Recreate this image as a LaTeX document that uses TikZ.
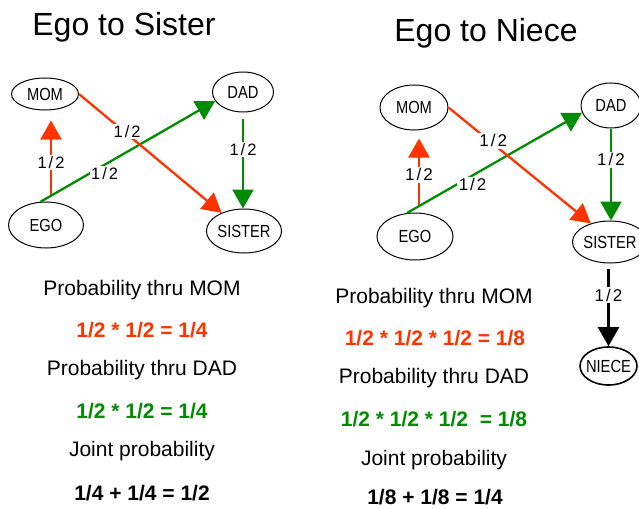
\documentclass[tikz,border=0pt]{standalone}
\usepackage{fontspec}
\setmainfont{Liberation Sans}
\newfontfamily\nodefont[FakeStretch=0.84]{Liberation Sans}
\usetikzlibrary{arrows.meta,shapes.geometric}
\definecolor{myred}{RGB}{255,51,0}
\definecolor{mygreen}{RGB}{0,140,0}
\newcommand\hlf{1\kern2pt/\kern2pt2}
\begin{document}
\begin{tikzpicture}[x=1pt,y=-1pt,
  person/.style={draw=black, line width=1pt, ellipse, inner sep=0pt,
    font=\nodefont\fontsize{17.5}{17.5}\selectfont},
  tip/.style={-{Triangle[width=21pt,length=19pt]}},
  redarr/.style={draw=myred, line width=2.3pt, tip, myred},
  greenarr/.style={draw=mygreen, line width=2.3pt, tip, mygreen},
  blackarr/.style={draw=black, line width=2.3pt, tip},
  lbl/.style={fill=white, inner sep=1.5pt, text=black, font=\fontsize{16.5}{16.5}\selectfont},
  lblr/.style={lbl, font=\fontsize{17}{17}\selectfont},
  title/.style={inner sep=0pt, font=\fontsize{32}{32}\selectfont},
  txt/.style={inner sep=0pt, font=\fontsize{21}{21}\selectfont},
  eq/.style={inner sep=0pt, font=\bfseries\fontsize{21}{21}\selectfont}
]
\useasboundingbox (0,0) rectangle (639,508);
\fill[white] (0,0) rectangle (639,508);

% ---------- left: Ego to Sister ----------
\node[title] (t1) at (124,27) {Ego to Sister};
\node[person, minimum width=67, minimum height=32] (mom1) at (45,94) {MOM};
\node[person, minimum width=61, minimum height=40] (dad1) at (243,92) {DAD};
\node[person, minimum width=75, minimum height=46] (ego1) at (46,225) {EGO};
\node[person, minimum width=75, minimum height=44] (sis1) at (244,231) {SISTER};

\draw[redarr, shorten <=6pt, shorten >=10pt] ([xshift=5pt]ego1.north) -- ([xshift=5pt]ego1.north |- mom1.south)
  node[lbl, pos=.43] {\hlf};
\draw[greenarr] (ego1.103) -- (dad1.198)
  node[lbl, pos=.367, yshift=-9pt] {\hlf};
\draw[redarr] (mom1.east) -- (sis1.141)
  node[lbl, pos=.338, yshift=3pt] {\hlf};
\draw[greenarr, shorten <=6pt] (dad1.south) -- (dad1.south |- sis1.north)
  node[lbl, pos=.39] {\hlf};

\node[txt] (p1a) at (142,290) {Probability thru MOM};
\node[eq, text=myred] (p1b) at (142,330) {1/2 * 1/2 = 1/4};
\node[txt] (p1c) at (142,370) {Probability thru DAD};
\node[eq, text=mygreen] (p1d) at (142,411) {1/2 * 1/2 = 1/4};
\node[txt] (p1e) at (142,451) {Joint probability};
\node[eq] (p1f) at (142,493) {1/4 + 1/4 = 1/2};

% ---------- right: Ego to Niece ----------
\node[title] (t2) at (486,33) {Ego to Niece};
\node[person, minimum width=68, minimum height=45] (mom2) at (414,107.5) {MOM};
\node[person, minimum width=60, minimum height=45] (dad2) at (611,105.5) {DAD};
\node[person, minimum width=76, minimum height=47] (ego2) at (415,236.5) {EGO};
\node[person, minimum width=74, minimum height=42] (sis2) at (610,242) {SISTER};
\node[person, line width=1.6pt, inner xsep=-5pt, minimum width=57, minimum height=38] (nie2) at (608.5,366) {NIECE};

\draw[redarr, shorten <=6pt, shorten >=8pt] ([xshift=4pt]ego2.north) -- ([xshift=4pt]ego2.north |- mom2.south)
  node[lblr, pos=.46] {\hlf};
\draw[greenarr] (ego2.109) -- (dad2.194)
  node[lblr, pos=.375, yshift=-9.5pt] {\hlf};
\draw[redarr] (mom2.east) -- (sis2.136)
  node[lblr, pos=.314, yshift=3pt] {\hlf};
\draw[greenarr] (dad2.south) -- (dad2.south |- sis2.north)
  node[lblr, pos=.34] {\hlf};
\draw[blackarr, shorten <=5pt] (sis2.south -| nie2.north) -- (nie2.north)
  node[lblr, pos=.38] {\hlf};

\node[txt] (p2a) at (434,298) {Probability thru MOM};
\node[eq, text=myred] (p2b) at (435,338) {1/2 * 1/2 * 1/2 = 1/8};
\node[txt] (p2c) at (434,378) {Probability thru DAD};
\node[eq, text=mygreen] (p2d) at (434,419) {1/2 * 1/2 * 1/2 \ = 1/8};
\node[txt] (p2e) at (434,460) {Joint probability};
\node[eq] (p2f) at (435,497) {1/8 + 1/8 = 1/4};
\end{tikzpicture}
\end{document}
